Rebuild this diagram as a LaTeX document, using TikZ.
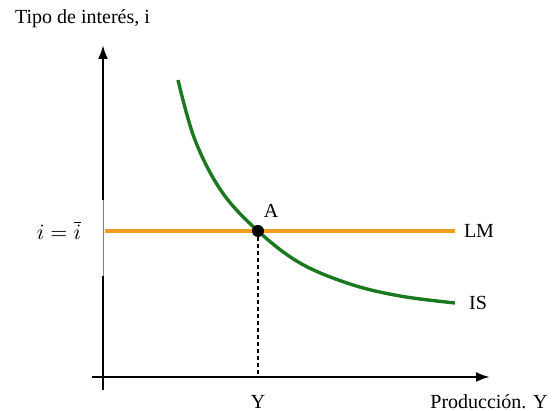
\documentclass[tikz,border=0pt]{standalone}
\usepackage{fontspec}
\setmainfont{Liberation Serif}
\usetikzlibrary{arrows.meta}
\definecolor{lmorange}{RGB}{243,156,30}
\definecolor{isgreen}{RGB}{26,120,30}
\tikzset{
  axis/.style={line width=1.2pt, -{Latex[length=7pt,width=5pt]}},
  lbl/.style={font=\fontsize{10}{12}\selectfont}
}
\begin{document}
\begin{tikzpicture}[x=0.5pt,y=-0.5pt]
\useasboundingbox (0,0) rectangle (553,411);
% axes
\coordinate (o) at (103,377);
\draw[line width=1.2pt] (103,390) -- (103,276);
\draw[gray, line width=0.4pt] (103,276) -- (103,200);
\draw[axis] (103,200) -- (103,45);
\draw[axis] (92,377) -- (490,377);
% curves
\draw[lmorange, line width=1.7pt] (105,231) -- (455,231);
\draw[isgreen, line width=1.7pt] plot[smooth, tension=0.6] coordinates {(178,80) (195,140) (222,192) (258,231) (300,263) (350,284) (400,296) (455,303)};
\node[circle, fill, inner sep=0pt, minimum size=6pt] (A) at (258,231) {};
\coordinate (Yax) at (258,377);
\draw[dash pattern=on 2pt off 1.5pt, line width=0.8pt] (A) -- (Yax);
% labels
\node[lbl, anchor=west] (ytitle) at (8,19) {Tipo de interés, i};
\node[lbl] (xtitle) at (489,402) {Producción. Y};
\node[lbl] (Ylab) at (258,402) {Y};
\node[lbl] (Alab) at (271,211) {A};
\node[lbl] (LMlab) at (479,231) {LM};
\node[lbl] (ISlab) at (478,303) {IS};
\node[font=\fontsize{11}{13}\selectfont] (ilab) at (59,230) {$i=\overline{i}$};
\end{tikzpicture}
\end{document}
